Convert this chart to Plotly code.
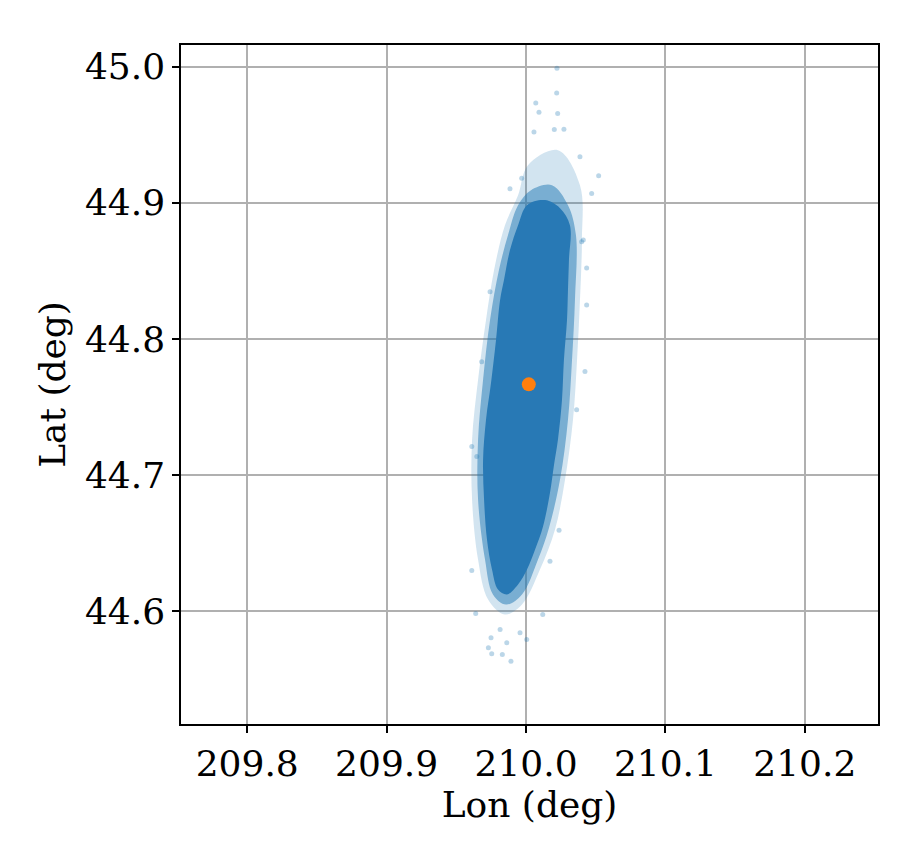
import plotly.graph_objects as go

# Dense core outline of the sample cloud (lon, lat)
core_lon = [210.0007, 210.0136, 210.0244, 210.0315, 210.0308, 210.0301, 210.0294, 210.0272,
            210.0258, 210.0229, 210.0201, 210.0172, 210.0122, 210.0065, 210.0007, 209.9943,
            209.9864, 209.9799, 209.9756, 209.9720, 209.9699, 209.9692, 209.9713, 209.9749,
            209.9785, 209.9814, 209.9842, 209.9885, 209.9943]
core_lat = [44.8983, 44.9020, 44.8961, 44.8836, 44.8580, 44.8360, 44.8139, 44.7846,
            44.7552, 44.7259, 44.7076, 44.6870, 44.6621, 44.6452, 44.6305, 44.6195,
            44.6122, 44.6158, 44.6305, 44.6525, 44.6819, 44.7112, 44.7406, 44.7677,
            44.7993, 44.8286, 44.8433, 44.8653, 44.8836]

# Semi-dense band around the core (lon, lat)
mid_lon = [210.0036, 210.0186, 210.0301, 210.0358, 210.0351, 210.0330, 210.0301, 210.0244,
           210.0165, 210.0086, 209.9971, 209.9857, 209.9763, 209.9706, 209.9656, 209.9656,
           209.9692, 209.9742, 209.9806, 209.9871, 209.9943]
mid_lat = [44.9093, 44.9130, 44.8983, 44.8763, 44.8286, 44.7846, 44.7406, 44.6966,
           44.6613, 44.6379, 44.6122, 44.6048, 44.6122, 44.6379, 44.6819, 44.7259,
           44.7699, 44.8139, 44.8506, 44.8763, 44.8983]

# Fuzzy outer halo of the cloud (lon, lat)
halo_lon = [210.0014, 210.0229, 210.0387, 210.0401, 210.0387, 210.0366, 210.0337, 210.0280,
            210.0208, 210.0100, 209.9971, 209.9849, 209.9728, 209.9656, 209.9613, 209.9613,
            209.9656, 209.9713, 209.9771, 209.9849, 209.9943]
halo_lat = [44.9277, 44.9387, 44.9130, 44.8726, 44.8286, 44.7846, 44.7406, 44.6966,
            44.6599, 44.6305, 44.6048, 44.5975, 44.6085, 44.6379, 44.6819, 44.7259,
            44.7699, 44.8139, 44.8506, 44.8836, 44.9056]

# Sparse outlying samples (lon, lat)
out_lon = [210.0220, 210.0070, 210.0093, 210.0227, 210.0203, 210.0272, 210.0057, 210.0521,
           210.0387, 209.9885, 209.9969, 210.0471, 210.0435, 210.0399, 210.0222, 209.9892,
           209.9830, 209.9754, 209.9749, 209.9730, 210.0005, 210.0120, 209.9639, 209.9611,
           210.0237, 210.0172, 209.9957, 209.9862, 209.9814, 209.9682, 209.9611, 209.9647,
           210.0423, 210.0363, 210.0435, 209.9742, 210.0411]
out_lat = [44.9807, 44.9734, 44.9665, 44.9656, 44.9539, 44.9541, 44.9521, 44.9199,
           44.9338, 44.9103, 44.9180, 44.9069, 44.8521, 44.8714, 44.9989, 44.5631,
           44.5681, 44.5686, 44.5803, 44.5730, 44.5791, 44.5975, 44.5982, 44.6298,
           44.6594, 44.6366, 44.5840, 44.5767, 44.5865, 44.7833, 44.7210, 44.7136,
           44.7760, 44.7479, 44.8250, 44.8347, 44.8727]

# Best-fit / nominal position
center_lon = [210.002]
center_lat = [44.7666]

x_range = [209.7525, 210.2525]
y_range = [44.5170, 45.0160]
x_ticks = [209.8, 209.9, 210.0, 210.1, 210.2]
y_ticks = [44.6, 44.7, 44.8, 44.9, 45.0]

blue = "#1f77b4"
font = "DejaVu Serif"


def closed(a):
    return a + a[:1]


fig = go.Figure()
fig.add_trace(go.Scatter(x=out_lon, y=out_lat, mode="markers",
                         marker=dict(color=blue, size=5, opacity=0.3, line=dict(width=0)),
                         hoverinfo="skip", showlegend=False))
for lon, lat, fc in [(halo_lon, halo_lat, "rgba(31,119,180,0.2)"),
                     (mid_lon, mid_lat, "rgba(31,119,180,0.5)"),
                     (core_lon, core_lat, "rgba(40,121,181,1.0)")]:
    fig.add_trace(go.Scatter(x=closed(lon), y=closed(lat), mode="lines",
                             fill="toself", fillcolor=fc,
                             line=dict(width=0, shape="spline", smoothing=1.0),
                             hoverinfo="skip", showlegend=False))
fig.add_trace(go.Scatter(x=center_lon, y=center_lat, mode="markers",
                         marker=dict(color="#ff7f0e", size=14, line=dict(width=0)),
                         showlegend=False))

axis_common = dict(
    showgrid=True, gridcolor="#b0b0b0", gridwidth=1.5,
    showline=True, linecolor="black", linewidth=1.5, mirror=True,
    ticks="outside", ticklen=7, tickwidth=1.5, tickcolor="black",
    zeroline=False,
    tickfont=dict(family=font, size=36, color="black"),
)

fig.update_layout(
    width=924, height=858,
    margin=dict(l=181, r=46, t=45, b=134),
    paper_bgcolor="white", plot_bgcolor="white",
    font=dict(family=font, color="black"),
    xaxis=dict(range=x_range, tickvals=x_ticks, ticktext=[f"{v:.1f}" for v in x_ticks],
               title=dict(text="Lon (deg)", font=dict(family=font, size=36), standoff=8),
               **axis_common),
    yaxis=dict(range=y_range, tickvals=y_ticks, ticktext=[f"{v:.1f}" for v in y_ticks],
               title=dict(text="Lat (deg)", font=dict(family=font, size=36), standoff=8),
               **axis_common),
)

fig.write_html("out.html")
